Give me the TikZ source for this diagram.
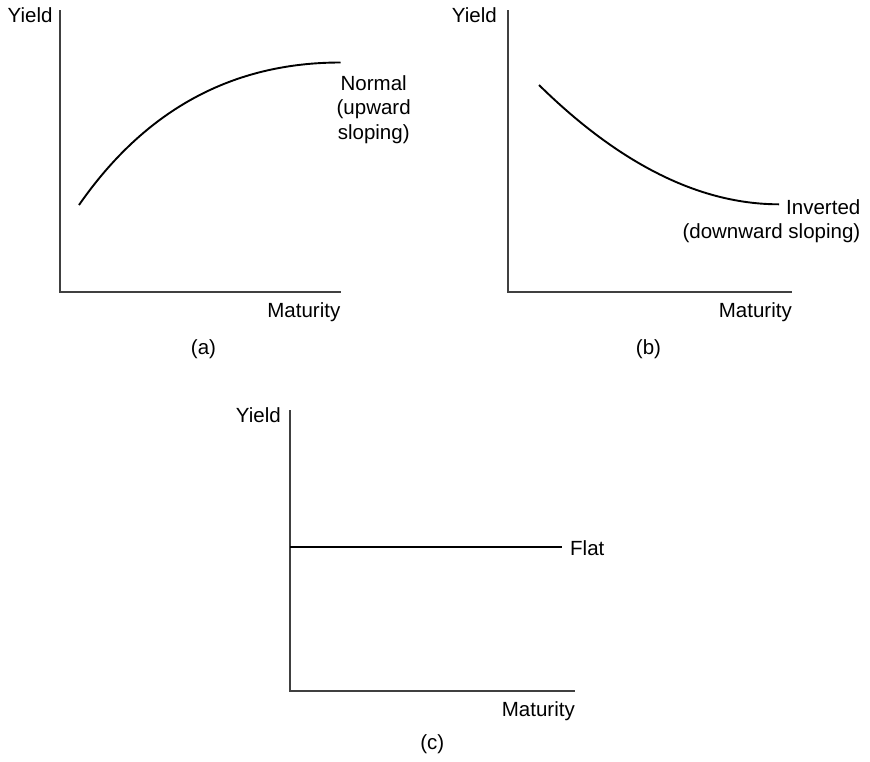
\documentclass[tikz,border=0pt]{standalone}
\usepackage{fontspec}
\setmainfont{Liberation Sans}
\begin{document}
\begin{tikzpicture}[x=1pt,y=-1pt,
  axis/.style={draw=black!75,line width=1.7pt},
  curve/.style={draw=black,line width=1.9pt},
  lbl/.style={inner sep=0pt,font=\fontsize{20.5}{24.5}\selectfont}]
\useasboundingbox (0,0) rectangle (870,761);
% ---------- (a) ----------
\coordinate (aTop) at (60,10);
\coordinate (aO) at (60,292.3);
\coordinate (aEnd) at (340.7,292.3);
\draw[axis] (aTop) -- (aO) -- (aEnd);
\coordinate (aS) at (79,205);
\coordinate (aE) at (340.5,62.5);
\draw[curve] (aS) .. controls (145,110) and (232,62.5) .. (aE);
\node[lbl,anchor=base east] (ay) at (52.7,22.3) {Yield};
\node[lbl,anchor=base east] (am) at (340.5,317.3) {Maturity};
\node[lbl,anchor=north,align=center] (an) at (373.7,75) {Normal\\(upward\\sloping)};
\node[lbl,anchor=base] (acap) at (203.5,354) {(a)};
% ---------- (b) ----------
\coordinate (bTop) at (508,10);
\coordinate (bO) at (508,292.3);
\coordinate (bEnd) at (792,292.3);
\draw[axis] (bTop) -- (bO) -- (bEnd);
\coordinate (bS) at (539,85);
\coordinate (bE) at (779,204.3);
\draw[curve] (bS) .. controls (619.7,164.3) and (700,204.3) .. (bE);
\node[lbl,anchor=base east] (by) at (497,22.3) {Yield};
\node[lbl,anchor=base east] (bm) at (792,317.3) {Maturity};
\node[lbl,anchor=north east,align=right] (bi) at (860.5,199.3) {Inverted\\(downward sloping)};
\node[lbl,anchor=base] (bcap) at (648.5,354) {(b)};
% ---------- (c) ----------
\coordinate (cTop) at (290,410);
\coordinate (cO) at (290,691);
\coordinate (cEnd) at (575,691);
\draw[axis] (cTop) -- (cO) -- (cEnd);
\coordinate (cS) at (290,546.7);
\coordinate (cE) at (562,546.7);
\draw[curve] (cS) -- (cE);
\node[lbl,anchor=base east] (cy) at (281,422.3) {Yield};
\node[lbl,anchor=base east] (cm) at (575,716) {Maturity};
\node[lbl,anchor=base west] (cf) at (570,555) {Flat};
\node[lbl,anchor=base] (ccap) at (432.3,749) {(c)};
\end{tikzpicture}
\end{document}
